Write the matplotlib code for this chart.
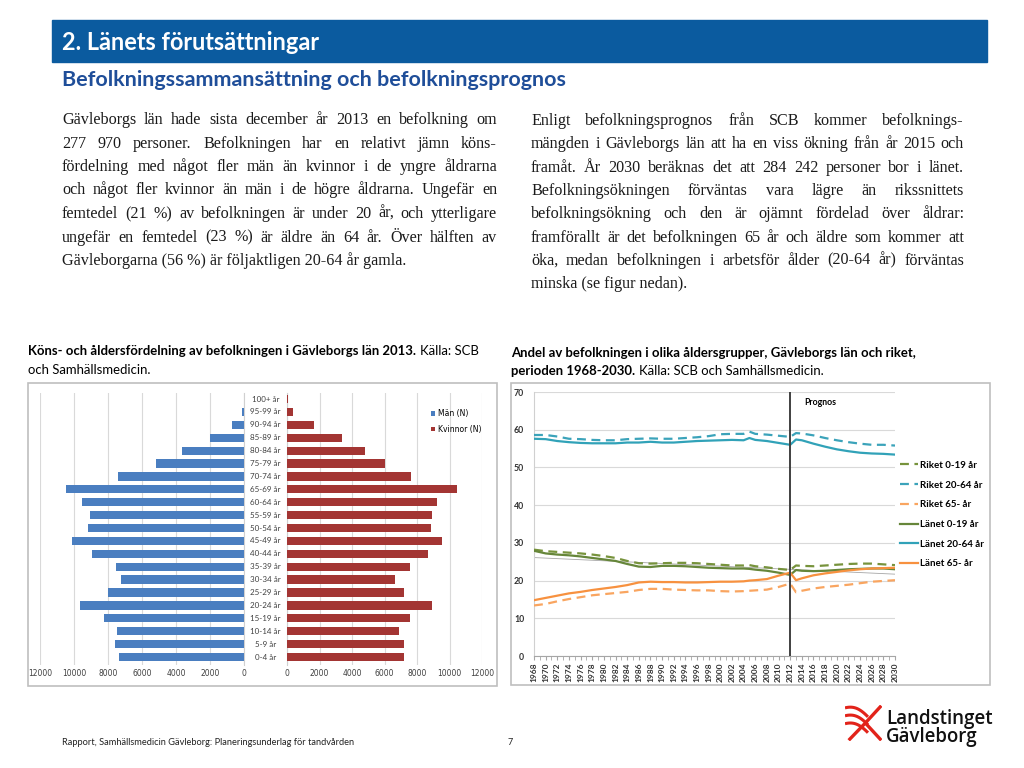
import numpy as np
import matplotlib
matplotlib.use('Agg')
import matplotlib.pyplot as plt
from matplotlib import font_manager
from matplotlib.patches import Rectangle

# -- data: population pyramid 2013
age_groups = ['0-4 år', '5-9 år', '10-14 år', '15-19 år', '20-24 år', '25-29 år', '30-34 år',
              '35-39 år', '40-44 år', '45-49 år', '50-54 år', '55-59 år', '60-64 år', '65-69 år',
              '70-74 år', '75-79 år', '80-84 år', '85-89 år', '90-94 år', '95-99 år', '100+ år']
men = [7370, 7590, 7470, 8220, 9630, 7980, 7220, 7510, 8940, 10120, 9180,
       9040, 9510, 10470, 7430, 5150, 3630, 2000, 710, 100, 15]
women = [7180, 7200, 6910, 7550, 8900, 7220, 6670, 7550, 8680, 9560, 8860,
         8940, 9230, 10440, 7610, 6050, 4800, 3390, 1640, 370, 45]

# -- data: age group shares 1968-2030 (%)
years = list(range(1968, 2005, 2)) + [2005, 2006, 2008, 2010, 2012, 2013] + list(range(2014, 2031, 2))
riket_0_19 = [28.2, 27.8, 27.6, 27.4, 27.2, 26.9, 26.5, 26.0, 25.2, 24.6, 24.5, 24.6, 24.7, 24.7, 24.6, 24.4,
              24.2, 24.0, 24.0, 24.1, 23.8, 23.5, 23.1, 22.8, 24.0, 23.9, 23.8, 24.0, 24.2, 24.4, 24.5, 24.5,
              24.3, 24.1]
riket_20_64 = [58.6, 58.6, 58.2, 57.6, 57.5, 57.3, 57.2, 57.2, 57.5, 57.6, 57.7, 57.6, 57.6, 57.8, 58.0, 58.3,
               58.8, 58.9, 58.9, 59.5, 58.9, 58.7, 58.4, 58.1, 59.1, 59.0, 58.5, 57.8, 57.2, 56.7, 56.3, 56.0,
               56.0, 55.8]
riket_65 = [13.4, 13.8, 14.5, 15.1, 15.6, 16.1, 16.4, 16.7, 17.0, 17.5, 17.8, 17.8, 17.6, 17.5, 17.4, 17.4,
            17.2, 17.1, 17.2, 17.3, 17.4, 17.6, 18.3, 19.2, 16.9, 17.3, 17.9, 18.3, 18.6, 18.9, 19.3, 19.7,
            19.9, 20.1]
lanet_0_19 = [27.9, 27.2, 26.9, 26.7, 26.4, 26.0, 25.6, 25.2, 24.4, 23.7, 23.6, 23.9, 23.9, 23.8, 23.6, 23.4,
              23.3, 23.2, 23.2, 23.1, 22.9, 22.6, 22.1, 21.5, 22.8, 22.6, 22.5, 22.6, 22.8, 23.0, 23.1, 23.2,
              23.2, 23.0]
lanet_20_64 = [57.6, 57.5, 57.0, 56.7, 56.5, 56.4, 56.4, 56.4, 56.6, 56.6, 56.8, 56.6, 56.6, 56.8, 57.0, 57.1,
               57.2, 57.3, 57.2, 57.8, 57.3, 57.0, 56.5, 56.0, 57.4, 57.2, 56.3, 55.5, 54.8, 54.3, 53.9, 53.7,
               53.6, 53.4]
lanet_65 = [14.8, 15.4, 16.0, 16.6, 17.0, 17.5, 17.9, 18.3, 18.8, 19.5, 19.7, 19.6, 19.6, 19.5, 19.5, 19.6,
            19.7, 19.7, 19.8, 20.0, 20.1, 20.4, 21.3, 22.1, 20.1, 20.6, 21.4, 21.9, 22.3, 22.7, 23.0, 23.2,
            23.3, 23.4]
trend_years = [1968, 2030]
trend_vals = [26.1, 21.7]
prognos_year = 2012

left_par = [
    "Gävleborgs län hade sista december år 2013 en befolkning om",
    "277 970 personer. Befolkningen har en relativt jämn köns-",
    "fördelning med något fler män än kvinnor i de yngre åldrarna",
    "och något fler kvinnor än män i de högre åldrarna. Ungefär en",
    "femtedel (21 %) av befolkningen är under 20 år, och ytterligare",
    "ungefär en femtedel (23 %) är äldre än 64 år. Över hälften av",
    "Gävleborgarna (56 %) är följaktligen 20-64 år gamla."]
right_par = [
    "Enligt befolkningsprognos från SCB kommer befolknings-",
    "mängden i Gävleborgs län att ha en viss ökning från år 2015 och",
    "framåt. År 2030 beräknas det att 284 242 personer bor i länet.",
    "Befolkningsökningen förväntas vara lägre än rikssnittets",
    "befolkningsökning och den är ojämnt fördelad över åldrar:",
    "framförallt är det befolkningen 65 år och äldre som kommer att",
    "öka, medan befolkningen i arbetsför ålder (20-64 år) förväntas",
    "minska (se figur nedan)."]

installed = {f.name for f in font_manager.fontManager.ttflist}
narrow = 'Liberation Sans Narrow' if 'Liberation Sans Narrow' in installed else 'Lato'

W, H = 1024, 768
fig = plt.figure(figsize=(W / 100, H / 100), dpi=100)
fig.patch.set_facecolor('white')
R = fig.canvas.get_renderer()


def fx(x): return x / W
def fy(y): return 1 - y / H
def px_axes(l, t, r, b): return fig.add_axes([fx(l), fy(b), (r - l) / W, (b - t) / H])
def width(t): return t.get_window_extent(R).width


def fit(x, y, s, w, size=10, **kw):
    t = fig.text(fx(x), fy(y), s, fontsize=size, va='baseline', **kw)
    t.set_fontsize(size * w / width(t))
    return t


def justify(lines, x0, x1, y0, dy, **kw):
    for i, line in enumerate(lines):
        y = y0 + i * dy
        if i == len(lines) - 1:
            fig.text(fx(x0), fy(y), line, va='baseline', **kw)
            continue
        ts = [fig.text(0, fy(y), w, va='baseline', **kw) for w in line.split(' ')]
        ws = [width(t) for t in ts]
        gap = (x1 - x0 - sum(ws)) / (len(ts) - 1)
        x = x0
        for t, w in zip(ts, ws):
            t.set_x(fx(x))
            x += w + gap


# -- header
fig.add_artist(Rectangle((fx(52), fy(62)), (987 - 52) / W, 42 / H, transform=fig.transFigure,
                         color='#0B5B9F', zorder=0))
fit(62, 50, '2. Länets förutsättningar', 258, family='Lato', weight='bold', color='white')
fit(62, 86, 'Befolkningssammansättning och befolkningsprognos', 505,
    family=narrow, weight='bold', color='#1F4E99')

# -- paragraphs
probe = fit(0, -50, left_par[-1], 346, family='Liberation Serif')
psize = probe.get_fontsize()
probe.remove()
pkw = dict(family='Liberation Serif', fontsize=psize, color='#1a1a1a')
justify(left_par, 62, 497, 124, 23.5, **pkw)
justify(right_par, 531, 964, 125, 23.3, **pkw)

# -- chart captions
cap = fit(28, 355, 'Köns- och åldersfördelning av befolkningen i Gävleborgs län 2013.', 388,
          family='Lato', weight='bold', color='black')
csize = cap.get_fontsize()
ckw = dict(family='Lato', fontsize=csize, color='black', va='baseline')
fig.text(fx(28 + width(cap) + 4), fy(355), 'Källa: SCB', **ckw)
fig.text(fx(28), fy(374), 'och Samhällsmedicin.', **ckw)
fig.text(fx(511), fy(357), 'Andel av befolkningen i olika åldersgrupper, Gävleborgs län och riket,',
         weight='bold', **ckw)
c2 = fig.text(fx(511), fy(375), 'perioden 1968-2030.', weight='bold', **ckw)
fig.text(fx(511 + width(c2) + 4), fy(375), 'Källa: SCB och Samhällsmedicin.', **ckw)

# -- chart borders
for l, t, r, b in [(28, 383, 497, 686), (511, 383, 990, 685)]:
    fig.add_artist(Rectangle((fx(l), fy(b)), (r - l) / W, (b - t) / H, transform=fig.transFigure,
                             fill=False, ec='#BFBFBF', lw=1.2))

# -- population pyramid
axL = px_axes(40, 393, 244, 665)
axR = px_axes(287, 393, 482, 665)
pos = np.arange(len(age_groups))
bm = axL.barh(pos, men, height=0.64, color='#4A7EC0', label='Män (N)', zorder=3)
bw = axR.barh(pos, women, height=0.64, color='#A33533', label='Kvinnor (N)', zorder=3)
axL.set_xlim(12000, 0)
axR.set_xlim(0, 12000)
for ax, side in [(axL, 'right'), (axR, 'left')]:
    ax.set_ylim(-0.62, 20.47)
    ax.set_yticks([])
    ax.set_xticks(range(0, 12001, 2000))
    ax.tick_params(axis='x', length=0, labelsize=5.5, labelcolor='#404040', pad=3)
    ax.grid(axis='x', color='#D9D9D9', lw=0.8, zorder=0)
    for s in ax.spines:
        ax.spines[s].set_visible(s == side)
    ax.spines[side].set_color('#D0D0D0')
for i, lab in enumerate(age_groups):
    axL.text(1.105, i, lab, transform=axL.get_yaxis_transform(), ha='center', va='center',
             fontsize=5.8, color='#404040', family='Lato')
fig.legend([bm, bw], ['Män (N)', 'Kvinnor (N)'], loc='upper left', bbox_to_anchor=(fx(427), fy(405)),
           frameon=False, fontsize=5.5, handlelength=0.6, handleheight=0.6, handletextpad=0.3,
           labelspacing=0.9, borderpad=0)

# -- share lines
axT = px_axes(534, 392, 895, 656)
series = [
    ('Riket 0-19 år', riket_0_19, '#77933C', (0, (4, 2.5))),
    ('Riket 20-64 år', riket_20_64, '#3BA3BA', (0, (4, 2.5))),
    ('Riket 65- år', riket_65, '#F9A560', (0, (4, 2.5))),
    ('Länet 0-19 år', lanet_0_19, '#66863A', '-'),
    ('Länet 20-64 år', lanet_20_64, '#31A2B8', '-'),
    ('Länet 65- år', lanet_65, '#F7913F', '-'),
]
axT.plot(trend_years, trend_vals, color='#A6A6A6', lw=0.6, zorder=2)
handles = []
for name, vals, col, ls in series:
    ln, = axT.plot(years, vals, color=col, ls=ls, lw=1.6, label=name, zorder=3)
    handles.append(ln)
axT.axvline(prognos_year, color='#404040', lw=1.4, zorder=4)
axT.text(prognos_year + 2.4, 66.6, 'Prognos', fontsize=6.3, weight='bold', family='Lato')
axT.set_xlim(1968, 2030)
axT.set_ylim(0, 70)
axT.set_yticks(range(0, 71, 10))
axT.set_xticks(range(1968, 2031, 2))
axT.set_xticks(range(1968, 2031), minor=True)
axT.tick_params(axis='y', length=0, labelsize=6.3, pad=7)
axT.tick_params(axis='x', which='both', length=3, color='#A6A6A6', labelsize=6, labelrotation=90, pad=2)
for lab in axT.get_xticklabels() + axT.get_yticklabels():
    lab.set_fontweight('bold')
    lab.set_family('Lato')
    lab.set_color('#333333')
axT.grid(axis='y', color='#D9D9D9', lw=0.8, zorder=0)
for s in ['top', 'right']:
    axT.spines[s].set_visible(False)
axT.spines['left'].set_color('#D0D0D0')
axT.spines['bottom'].set_color('#A6A6A6')
axT.legend(handles=handles, loc='upper left', bbox_to_anchor=(fx(895), fy(456)),
           bbox_transform=fig.transFigure, frameon=False, handlelength=1.9, handletextpad=0.15,
           labelspacing=1.1, borderpad=0, prop=dict(family='Lato', weight='bold', size=7))

# -- footer
fit(62, 745, 'Rapport, Samhällsmedicin Gävleborg: Planeringsunderlag för tandvården', 295,
    family='Lato', color='#222222')
fig.text(fx(508), fy(745), '7', fontsize=6.5, family='Lato', va='baseline', color='#222222')

# -- logo
axLogo = px_axes(845, 705, 882, 741)
axLogo.set_xlim(0, 1)
axLogo.set_ylim(0, 1)
axLogo.axis('off')
t = np.linspace(0, 1, 40)
for off in [0.0, 0.22, 0.44]:
    axLogo.plot(t * 0.62, 0.92 - off - 0.25 * t ** 2 + 0.05 * np.sin(np.pi * t), color='#E2231A',
                lw=2.2, solid_capstyle='butt')
axLogo.plot([0.98, 0.55], [0.98, 0.5], color='#E2231A', lw=2.4, solid_capstyle='butt')
axLogo.plot([0.55, 0.1], [0.5, 0.02], color='#E2231A', lw=2.4, solid_capstyle='butt')
axLogo.plot([0.55, 0.98], [0.5, 0.02], color='#E2231A', lw=2.4, solid_capstyle='butt')
fit(886, 724, 'Landstinget', 107, family='Open Sans', weight='semibold', color='#111111')
fit(886, 742, 'Gävleborg', 92, family='Open Sans', weight='semibold', color='#111111')

fig.savefig('out.png', dpi=100, facecolor='white')
